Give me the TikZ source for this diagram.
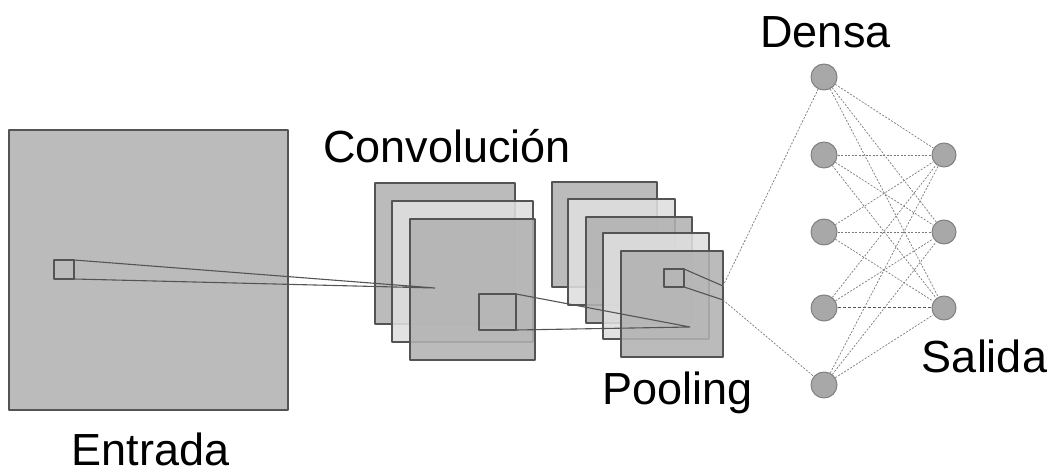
\documentclass[tikz,border=0pt]{standalone}
\usepackage{fontspec}
\setmainfont{Liberation Sans}
\definecolor{mapdark}{rgb}{0.70,0.70,0.70}
\definecolor{maplight}{rgb}{0.87,0.87,0.87}
\definecolor{mapline}{rgb}{0.33,0.33,0.33}
\definecolor{neuronfill}{rgb}{0.66,0.66,0.66}
\definecolor{neuronline}{rgb}{0.50,0.50,0.50}
\definecolor{synapsecol}{rgb}{0.48,0.48,0.48}
\begin{document}
\begin{tikzpicture}[line join=bevel,
  mapbox/.style={draw=mapline, fill=mapdark, fill opacity=0.88, draw opacity=1,
    line width=1.3bp, inner sep=0pt, outer sep=0pt},
  lightbox/.style={mapbox, fill=maplight},
  kernelbox/.style={draw=mapline, line width=1.3bp, inner sep=0pt, outer sep=0pt},
  neuron/.style={circle, draw=neuronline, fill=neuronfill, line width=1bp,
    minimum size=26bp, inner sep=0pt},
  synapse/.style={draw=synapsecol, dash pattern=on 2bp off 1.5bp, line width=0.7bp},
  layertext/.style={anchor=base, inner sep=0pt, font=\fontsize{45bp}{54bp}\selectfont}]
  \useasboundingbox (0bp,0bp) rectangle (1051bp,472bp);
  \pgfsetlinewidth{1bp}
%%
  % Node: Entrada
  \node[mapbox, minimum width=279bp, minimum height=280bp] (Entrada) at (148.5bp,202bp) {};
  \node[kernelbox, minimum width=20bp, minimum height=19bp] (Kernel1) at (64bp,202.5bp) {};
  \node[layertext] (EntradaText) at (150.5bp,7bp) {Entrada};
  % Node: Convolucion
\begin{scope}
  \node[mapbox, minimum width=140bp, minimum height=141bp] (Conv1) at (445bp,218.5bp) {};
  \node[lightbox, minimum width=141bp, minimum height=141bp] (Conv2) at (462.5bp,200.5bp) {};
  \node[mapbox, minimum width=125bp, minimum height=141bp] (Conv3) at (472.5bp,182.5bp) {};
  \node[kernelbox, minimum width=37bp, minimum height=36bp] (Kernel2) at (497.5bp,160bp) {};
  \coordinate (Tip1) at (435bp,184bp);
  \node[layertext] (ConvText) at (447bp,309bp) {Convolución};
\end{scope}
  % Node: Pooling
\begin{scope}
  \node[mapbox, minimum width=105bp, minimum height=105bp] (Pool1) at (604.5bp,237.5bp) {};
  \node[lightbox, minimum width=107bp, minimum height=106bp] (Pool2) at (621.5bp,220bp) {};
  \node[mapbox, minimum width=106bp, minimum height=106bp] (Pool3) at (639bp,202bp) {};
  \node[lightbox, minimum width=106bp, minimum height=106bp] (Pool4) at (656bp,186bp) {};
  \node[mapbox, minimum width=102bp, minimum height=106bp] (Pool5) at (672bp,168bp) {};
  \node[kernelbox, minimum width=20bp, minimum height=18bp] (Kernel3) at (674bp,194bp) {};
  \coordinate (Tip2) at (690bp,145bp);
  \coordinate (Tip3a) at (723bp,186bp);
  \coordinate (Tip3b) at (723bp,172bp);
  \node[layertext] (PoolText) at (677.5bp,67bp) {Pooling};
\end{scope}
  % Node: Densa
\begin{scope}
  \node[neuron] (Densa1) at (824bp,395bp) {};
  \node[neuron] (Densa2) at (824bp,317bp) {};
  \node[neuron] (Densa3) at (824bp,240bp) {};
  \node[neuron] (Densa4) at (824bp,164bp) {};
  \node[neuron] (Densa5) at (824bp,87bp) {};
  \node[layertext] (DensaText) at (825.5bp,424bp) {Densa};
\end{scope}
  % Node: Salida
\begin{scope}
  \node[neuron, minimum size=24bp] (Salida1) at (944bp,317bp) {};
  \node[neuron, minimum size=24bp] (Salida2) at (944bp,240bp) {};
  \node[neuron, minimum size=24bp] (Salida3) at (944bp,164bp) {};
  \node[layertext] (SalidaText) at (984.5bp,99bp) {Salida};
\end{scope}
  % Edge: Kernel1 -> Conv3
  \draw[mapline, line width=1.1bp] (Kernel1.north east) -- (Tip1) -- (Kernel1.south east);
  % Edge: Kernel2 -> Pool5
  \draw[mapline, line width=1.1bp] (Kernel2.north east) -- (Tip2) -- (Kernel2.south east);
  % Edge: Kernel3 -> Densa
  \draw[mapline, line width=1.1bp] (Kernel3.north east) -- (Tip3a);
  \draw[mapline, line width=1.1bp] (Kernel3.south east) -- (Tip3b);
  \draw[synapse] (Tip3a) -- (Densa1);
  \draw[synapse] (Tip3b) -- (Densa5);
  % Edge: Densa1 -> Salida
  \draw[synapse] (Densa1) -- (Salida1);
  \draw[synapse] (Densa1) -- (Salida2);
  \draw[synapse] (Densa1) -- (Salida3);
  % Edge: Densa2 -> Salida
  \draw[synapse] (Densa2) -- (Salida1);
  \draw[synapse] (Densa2) -- (Salida2);
  \draw[synapse] (Densa2) -- (Salida3);
  % Edge: Densa3 -> Salida
  \draw[synapse] (Densa3) -- (Salida1);
  \draw[synapse] (Densa3) -- (Salida2);
  \draw[synapse] (Densa3) -- (Salida3);
  % Edge: Densa4 -> Salida
  \draw[synapse] (Densa4) -- (Salida1);
  \draw[synapse] (Densa4) -- (Salida2);
  \draw[synapse, draw=mapline, line width=1bp, dash pattern=on 3bp off 2bp] (Densa4) -- (Salida3);
  % Edge: Densa5 -> Salida
  \draw[synapse] (Densa5) -- (Salida1);
  \draw[synapse] (Densa5) -- (Salida2);
  \draw[synapse] (Densa5) -- (Salida3);
%
\end{tikzpicture}
\end{document}
